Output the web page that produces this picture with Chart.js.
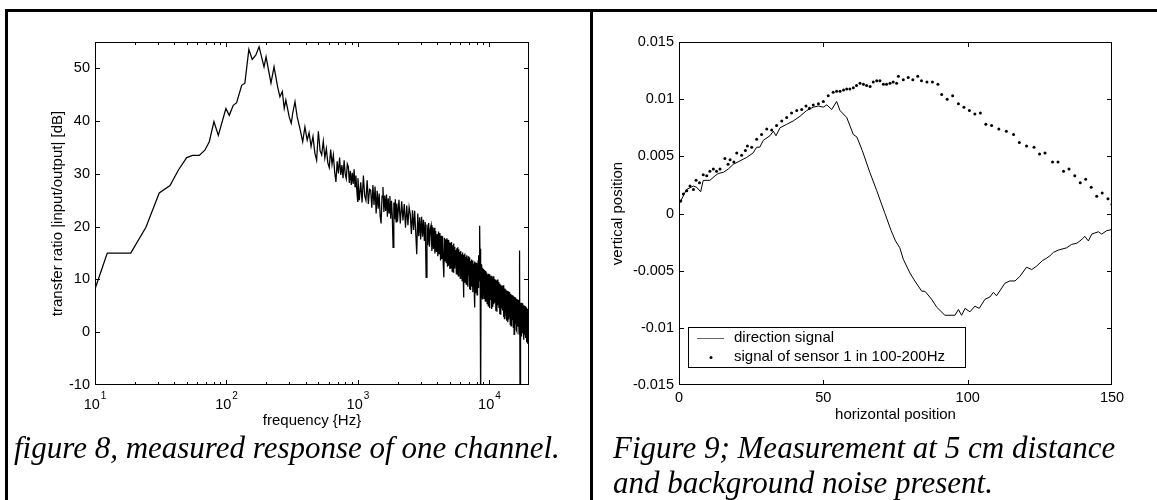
<!DOCTYPE html>
<html>
<head>
<meta charset="utf-8">
<title>figure 8 / figure 9</title>
<script src="https://cdn.jsdelivr.net/npm/chart.js@4.4.1/dist/chart.umd.min.js"></script>
<style>
  body { margin: 0; background: #fff; }
  #halaman { position: relative; width: 1157px; height: 500px; overflow: hidden; background: #fff; }
  .garis { position: absolute; background: #000; }
  canvas { position: absolute; top: 0; }
  .keterangan { position: absolute; font: italic 31px "Liberation Serif", "Times New Roman", serif; line-height: 35px; white-space: nowrap; color: #000; }
</style>
</head>
<body>
<div id="halaman">
  <div class="garis" style="left:5px; top:9px; width:1152px; height:3px"></div>
  <div class="garis" style="left:5px; top:9px; width:3px; height:491px"></div>
  <div class="garis" style="left:590px; top:9px; width:3px; height:491px"></div>
  <canvas id="grafikRespon" width="589" height="440" style="left:0"></canvas>
  <canvas id="grafikPosisi" width="563" height="440" style="left:594px"></canvas>
  <div class="keterangan" style="left:14px; top:430px">figure 8, measured response of one channel.</div>
  <div class="keterangan" style="left:613px; top:430px">Figure 9; Measurement at 5 cm distance<br>and background noise present.</div>
</div>
<script>
Chart.defaults.font.family = '"Liberation Sans", Arial, sans-serif';
Chart.defaults.font.size = 14.5;
Chart.defaults.color = '#000';

// figure 8 - transfer ratio |input/output| [dB] against frequency [Hz]
const frekRendah = [10, 12.4, 18.7, 24.4, 30.8, 37.2, 43, 49.8, 55.3, 62.1, 68.5, 74, 80.3, 86.7,
  99, 105, 112.6, 119.5, 130.5, 138, 148, 157, 167, 177, 193, 200, 218, 230, 245, 255, 266, 275, 283,
  300, 311, 319, 332, 345, 362, 380, 395, 411];
const dbRendah = [8.2, 15, 15, 19.9, 26.4, 27.8, 30.7, 33.1, 33.5, 33.5, 34.5, 36.1, 39.9, 37.3,
  42.4, 41.1, 43.0, 43.5, 46.8, 47.2, 53.6, 51.7, 52.5, 54.1, 50.3, 52.2, 47.2, 50.3, 46.5, 44.6, 45.6, 42.4, 44.0,
  40.8, 39.6, 41.5, 43.7, 40.8, 38.6, 36.1, 38.9, 36.4];

const frekTengah = [425, 440, 455, 470, 485, 500, 515, 530, 545, 560, 575, 590, 605, 620, 635, 650, 665,
  680, 695, 710, 725, 740, 755, 770, 785, 800, 815, 830, 845, 860, 875, 890, 905, 920, 935, 950, 965, 980, 995];
const dbTengah = [37.8, 35.2, 37.1, 34.0, 32.6, 38.1, 34.4, 33.6, 36.2, 33.0, 34.8, 32.1, 31.2, 34.6, 31.8, 33.6, 30.4,
  28.5, 32.4, 30.1, 33.1, 29.8, 31.7, 29.2, 32.6, 30.0, 29.1, 31.9, 31.4, 28.3, 30.6, 27.9, 30.2, 28.1, 30.9, 27.6, 29.7, 26.9, 24.8];

const frekTinggiA = [1000, 1025, 1050, 1075, 1100, 1125, 1150, 1175, 1200, 1225,
  1250, 1275, 1300, 1325, 1350, 1375, 1400, 1425, 1450, 1475,
  1500, 1525, 1550, 1575, 1600, 1625, 1650, 1675, 1700, 1725,
  1750, 1775, 1800, 1825, 1850, 1875, 1900, 1925, 1950, 1975];
const dbTinggiA = [29.2, 25.0, 28.4, 24.6, 29.7, 25.9, 25.0, 28.8, 24.3, 27.1,
  26.9, 23.6, 27.9, 24.1, 27.6, 22.5, 26.8, 23.4, 26.3, 22.0,
  20.6, 25.8, 27.5, 22.8, 25.9, 23.0, 26.1, 21.9, 25.4, 22.6,
  25.8, 21.5, 24.9, 22.0, 16.1, 24.6, 21.4, 25.2, 20.9, 24.4];

const frekTinggiB = [2000, 2050, 2100, 2150, 2200, 2250, 2300, 2350, 2400, 2450,
  2500, 2550, 2600, 2650, 2700, 2750, 2800, 2850, 2900, 2950,
  3000, 3050, 3100, 3150, 3200, 3250, 3300, 3350, 3400, 3450,
  3500, 3550, 3600, 3650, 3700, 3750, 3800, 3850, 3900, 3950,
  4000, 4050, 4100, 4150, 4200, 4250, 4300, 4350, 4400, 4450,
  4500, 4550, 4600, 4650, 4700, 4750, 4800, 4850, 4900, 4950];
const dbTinggiB = [21.0, 25.1, 20.6, 24.8, 21.2, 24.3, 19.8, 24.0, 20.3, 23.7,
  22.4, 18.6, 23.1, 19.4, 23.0, 18.9, 14.8, 22.5, 18.2, 21.8,
  17.6, 21.9, 18.1, 21.3, 17.3, 20.9, 10.4, 20.4, 16.5, 20.7,
  16.2, 19.6, 20.3, 15.4, 19.9, 15.8, 19.8, 14.9, 19.2, 15.2,
  18.6, 14.4, 19.1, 14.9, 18.8, 13.6, 18.3, 13.9, 18.2, 13.1,
  10.4, 17.9, 13.5, 17.6, 13.2, 17.8, 12.4, 17.5, 12.6, 17.0];

const frekTinggiC = [5000, 5050, 5100, 5150, 5200, 5250, 5300, 5350, 5400, 5450,
  5500, 5550, 5600, 5650, 5700, 5750, 5800, 5850, 5900, 5950,
  6000, 6050, 6100, 6150, 6200, 6250, 6300, 6350, 6400, 6450,
  6500, 6550, 6600, 6650, 6700, 6750, 6800, 6850, 6900, 6950,
  7000, 7050, 7100, 7150, 7200, 7250, 7300, 7350, 7400, 7450,
  7500, 7550, 7600, 7650, 7700, 7750, 7800, 7850, 7900, 7950,
  8000, 8050, 8100, 8150, 8200, 8250, 8300, 8350, 8400, 8450,
  8500, 8550, 8600, 8650, 8700, 8750, 8800, 8850, 8900, 8950,
  9000, 9050, 9100, 9150, 9200, 9250, 9300, 9350, 9400, 9450,
  9500, 9550, 9600, 9650, 9700, 9750, 9800, 9850, 9900, 9950];
const dbTinggiC = [12.0, 16.9, 12.1, 17.1, 11.6, 16.5, 11.4, 16.8, 12.2, 16.2,
  12.8, 15.6, 11.1, 15.9, 11.0, 16.1, 10.7, 15.7, 12.3, 15.2,
  10.2, 15.4, 10.6, 14.8, 9.8, 15.1, 11.7, 6.6, 14.7, 9.5,
  14.9, 10.2, 14.3, 9.1, 14.6, 9.4, 13.9, 8.6, 14.4, 10.8,
  13.8, 8.2, 14.2, 8.1, 13.5, 9.9, 13.8, 8.7, 13.1, 7.6,
  13.6, 8.7, 13.0, 8.3, 13.4, 4.7, 13.2, 7.4, 12.8, 9.3,
  13.1, 7.1, 12.7, 7.9, 13.6, 8.4, 14.6, 9.8, 17.3, 20.2,
  12.4, 15.8, -14, 12.9, 7.6, 12.4, 6.8, 12.2, 6.2, 11.8,
  7.3, 12.0, 6.4, 11.5, 8.3, 11.8, 5.9, 11.6, 7.0, 11.2,
  6.7, 11.3, 5.4, 11.0, 6.1, 10.8, 5.0, 11.1, 6.3, 10.6];

const frekTinggiD = [10000, 10100, 10200, 10300, 10400, 10500, 10600, 10700, 10800, 10900,
  11000, 11100, 11200, 11300, 11400, 11500, 11600, 11700, 11800, 11900,
  12000, 12100, 12200, 12300, 12400, 12500, 12600, 12700, 12800, 12900,
  13000, 13100, 13200, 13300, 13400, 13500, 13600, 13700, 13800, 13900,
  14000, 14100, 14200, 14300, 14400, 14500, 14600, 14700, 14800, 14900,
  15000, 15100, 15200, 15300, 15400, 15500, 15600, 15700, 15800, 15900,
  16000, 16100, 16200, 16300, 16400, 16500, 16600, 16700, 16800, 16900,
  17000, 17100, 17200, 17300, 17400, 17500, 17600, 17700, 17800, 17900,
  18000, 18100, 18200, 18300, 18400, 18500, 18600, 18700, 18800, 18900,
  19000, 19100, 19200, 19300, 19400, 19500, 19600, 19700, 19800, 19900, 20000];
const dbTinggiD = [4.6, 11.0, 6.1, 10.7, 4.4, 10.4, 4.8, 10.6, 5.3, 10.1,
  5.6, 9.9, 4.0, 9.7, 3.9, 10.0, 5.1, 9.5, 4.6, 9.2,
  3.4, 9.0, 3.3, 8.8, 4.5, 8.7, 4.1, 8.9, 2.9, 8.4,
  2.6, 8.3, 3.8, 8.1, 3.5, 7.9, 2.2, 7.8, 1.9, 7.7,
  2.4, 7.6, 2.8, 7.2, 1.5, 7.3, 1.2, 7.1, 2.0, 7.0,
  2.3, 6.9, 0.9, 6.8, -0.4, 6.7, 1.4, 6.6, 1.6, 6.4,
  0.5, 6.3, 0.2, 6.2, 1.1, 6.1, 1.0, 5.9, -0.3, 5.7,
  15.5, -14, 4.9, 0.4, 5.6, -0.8, 5.4, 0.7, 5.2, -0.2,
  5.5, 0.6, 5.1, -1.4, 5.0, -0.5, 4.8, 0.3, 4.9, -1.1,
  4.6, -1.9, 4.7, -0.6, 4.4, -2.2, 4.2, -0.9, 3.9, -1.5, 1.8];

const frekTicks = [10, 100, 1000, 10000];
const pangkatTicks = ['1', '2', '3', '4'];
const dbTicks = [-10, 0, 10, 20, 30, 40, 50];

// figure 9 - vertical against horizontal position
const posisiTicksX = [0, 50, 100, 150];
const posisiTicksY = [-0.015, -0.01, -0.005, 0, 0.005, 0.01, 0.015];
const arahX = [0, 2.6, 5.0, 6.1, 7.5, 8.4, 10.7, 12.5, 13.6, 15.4, 17.1, 18.8, 21.1, 23.4, 25.7, 26.9, 28.0, 29.2, 31.5, 32.7,
  33.6, 35.0, 37.3, 39.6, 41.9, 44.2, 46.5, 48.3, 50.0, 51.2, 52.9, 54.6, 55.8, 58.1, 60.4, 61.6, 63.5, 66.1, 68.5, 71.2,
  73.5, 75.0, 76.5, 77.7, 80.0, 81.7, 84.1, 85.2, 87.5, 89.3, 92.1, 95.6, 96.8, 97.9, 99.1, 100.8, 102.5, 104.0, 106.0, 107.7,
  108.9, 110.0, 112.9, 114.6, 116.4, 118.1, 120.4, 122.2, 123.9, 126.0, 127.4, 128.5, 129.7, 131.4, 134.3, 136.0, 137.8, 138.9, 139.8, 140.6,
  141.8, 143.0, 144.1, 145.3, 146.4, 148.2, 150];
const arahY = [0.0008, 0.0021, 0.0024, 0.0023, 0.0019, 0.0029, 0.0029, 0.0033, 0.0035, 0.0036, 0.0039, 0.0043, 0.0046, 0.0049, 0.0053, 0.0058, 0.0058, 0.0064, 0.0068, 0.0072,
  0.0068, 0.0075, 0.0078, 0.0081, 0.0085, 0.0090, 0.0093, 0.0094, 0.0093, 0.0095, 0.0091, 0.0098, 0.0090, 0.0084, 0.0069, 0.0067, 0.0055, 0.0036, 0.0020, 0.0001,
  -0.0015, -0.0024, -0.0030, -0.0040, -0.0052, -0.0059, -0.0068, -0.0068, -0.0075, -0.0082, -0.0089, -0.0089, -0.0084, -0.0089, -0.0083, -0.0086, -0.0081, -0.0083, -0.0075, -0.0073,
  -0.0069, -0.0072, -0.0061, -0.0059, -0.0059, -0.0055, -0.0047, -0.0049, -0.0046, -0.0041, -0.0039, -0.0037, -0.0034, -0.0032, -0.0030, -0.0027, -0.0026, -0.0024, -0.0022, -0.0020,
  -0.0024, -0.0018, -0.0017, -0.0016, -0.0018, -0.0015, -0.0014];
const sensorX = [0.6, 1.5, 2.7, 3.8, 5.0, 5.9, 7.1, 8.4, 9.6, 10.7, 11.9, 13.0, 14.2, 15.9, 17.0, 17.7, 19.0, 20.0, 21.7, 23.0,
  23.7, 25.2, 26.9, 28.6, 30.4, 32.1, 33.8, 35.6, 37.3, 39.0, 40.8, 42.5, 44.0, 45.2, 46.5, 48.3, 50.0, 51.7, 53.4, 54.6,
  55.8, 57.0, 58.1, 59.2, 60.4, 61.5, 62.7, 63.9, 65.0, 66.2, 67.3, 68.5, 69.6, 70.8, 71.9, 73.1, 74.2, 75.4, 76.0, 77.7,
  79.4, 81.0, 82.7, 84.0, 85.9, 87.8, 89.7, 91.0, 92.9, 94.8, 96.8, 98.7, 100.6, 102.5, 104.4, 106.3, 108.3, 110.8, 113.4, 115.9,
  117.9, 120.4, 123.0, 124.9, 126.8, 129.4, 131.3, 133.2, 135.1, 137.1, 139.0, 140.9, 142.8, 144.7, 146.6, 148.6, 150.0];
const sensorY = [0.0011, 0.0017, 0.0020, 0.0024, 0.0021, 0.0029, 0.0027, 0.0034, 0.0033, 0.0037, 0.0039, 0.0037, 0.0039, 0.0048, 0.0043, 0.0047, 0.0045, 0.0053, 0.0051, 0.0055,
  0.0059, 0.0058, 0.0065, 0.0069, 0.0074, 0.0073, 0.0077, 0.0081, 0.0084, 0.0088, 0.0090, 0.0091, 0.0094, 0.0092, 0.0095, 0.0096, 0.0098, 0.0103, 0.0106, 0.0107,
  0.0107, 0.0108, 0.0109, 0.0109, 0.0110, 0.0112, 0.0114, 0.0113, 0.0112, 0.0111, 0.0115, 0.0116, 0.0116, 0.0113, 0.0113, 0.0114, 0.0115, 0.0114, 0.0120, 0.0117,
  0.0119, 0.0117, 0.0120, 0.0116, 0.0115, 0.0115, 0.0113, 0.0104, 0.0100, 0.0103, 0.0096, 0.0093, 0.0090, 0.0087, 0.0088, 0.0078, 0.0077, 0.0074, 0.0072, 0.0069,
  0.0062, 0.0059, 0.0058, 0.0052, 0.0053, 0.0045, 0.0045, 0.0037, 0.0039, 0.0033, 0.0027, 0.0030, 0.0023, 0.0015, 0.0018, 0.0013, 0.0008];

const frekSemua = [...frekRendah, ...frekTengah, ...frekTinggiA, ...frekTinggiB, ...frekTinggiC, ...frekTinggiD];
const dbSemua = [...dbRendah, ...dbTengah, ...dbTinggiA, ...dbTinggiB, ...dbTinggiC, ...dbTinggiD];

// matlab style box: inward ticks on all four sides, titles, optional legend
const bingkaiMatlab = {
  id: 'bingkaiMatlab',
  afterDatasetsDraw(chart, args, opt) {
    if (!opt.judulX) return;
    const { ctx, chartArea: a } = chart;
    const sx = chart.scales.x, sy = chart.scales.y;
    const hurufTick = '14.5px "Liberation Sans", Arial, sans-serif';
    const hurufJudul = '15px "Liberation Sans", Arial, sans-serif';
    const hurufPangkat = '10px "Liberation Sans", Arial, sans-serif';
    ctx.save();
    ctx.strokeStyle = '#000';
    ctx.fillStyle = '#000';
    ctx.lineWidth = 1;

    ctx.beginPath();
    const tickX = (v, len) => {
      const x = Math.round(sx.getPixelForValue(v)) + 0.5;
      ctx.moveTo(x, a.bottom); ctx.lineTo(x, a.bottom - len);
      ctx.moveTo(x, a.top); ctx.lineTo(x, a.top + len);
    };
    const tickY = (v, len) => {
      const y = Math.round(sy.getPixelForValue(v)) + 0.5;
      ctx.moveTo(a.left, y); ctx.lineTo(a.left + len, y);
      ctx.moveTo(a.right, y); ctx.lineTo(a.right - len, y);
    };
    sx.ticks.forEach(t => { if (t.value > sx.min && t.value < sx.max) tickX(t.value, 5); });
    sy.ticks.forEach(t => { if (t.value > sy.min && t.value < sy.max) tickY(t.value, 5); });
    if (sx.type === 'logarithmic') {
      for (let d = 10; d < sx.max; d *= 10) {
        for (let m = 2; m < 10; m++) {
          if (d * m < sx.max) tickX(d * m, 3);
        }
      }
    }
    ctx.stroke();
    ctx.strokeRect(a.left + 0.5, a.top + 0.5, a.width - 1, a.height - 1);

    // 10^n labels for the log axis
    if (opt.pangkat) {
      ctx.textAlign = 'left';
      ctx.textBaseline = 'alphabetic';
      sx.ticks.forEach((t, i) => {
        const x = sx.getPixelForValue(t.value);
        ctx.font = hurufTick;
        const wBasis = ctx.measureText('10').width;
        ctx.font = hurufPangkat;
        const wPangkat = ctx.measureText(opt.pangkat[i]).width;
        const x0 = x - (wBasis + 1 + wPangkat) / 2;
        ctx.font = hurufTick;
        ctx.fillText('10', x0, a.bottom + 24);
        ctx.font = hurufPangkat;
        ctx.fillText(opt.pangkat[i], x0 + wBasis + 1, a.bottom + 14);
      });
    }

    ctx.font = hurufJudul;
    ctx.textAlign = 'center';
    ctx.textBaseline = 'middle';
    ctx.fillText(opt.judulX, (a.left + a.right) / 2, a.bottom + opt.jarakX);
    ctx.save();
    ctx.translate(a.left - opt.jarakY, (a.top + a.bottom) / 2);
    ctx.rotate(-Math.PI / 2);
    ctx.fillText(opt.judulY, 0, 0);
    ctx.restore();

    if (opt.legenda) {
      const ds = chart.data.datasets;
      const x0 = a.left + 9, y0 = a.bottom - 58, w = 278, h = 41;
      ctx.fillStyle = '#fff';
      ctx.fillRect(x0, y0, w, h);
      ctx.strokeStyle = '#000';
      ctx.strokeRect(x0 + 0.5, y0 + 0.5, w - 1, h - 1);
      ctx.strokeStyle = '#666';
      ctx.beginPath();
      ctx.moveTo(x0 + 9, y0 + 11.5);
      ctx.lineTo(x0 + 36, y0 + 11.5);
      ctx.stroke();
      ctx.fillStyle = '#000';
      ctx.beginPath();
      ctx.arc(x0 + 23, y0 + 30.5, 1.5, 0, 2 * Math.PI);
      ctx.fill();
      ctx.textAlign = 'left';
      ctx.fillText(ds[0].label, x0 + 46, y0 + 11);
      ctx.fillText(ds[1].label, x0 + 46, y0 + 30);
    }
    ctx.restore();
  }
};
Chart.register(bingkaiMatlab);

const grafikRespon = new Chart(document.getElementById('grafikRespon'), {
  type: 'line',
  data: {
    datasets: [{
      label: 'transfer ratio',
      data: frekSemua.map((f, i) => ({ x: f, y: dbSemua[i] })),
      borderColor: '#000',
      borderWidth: 1.25,
      pointRadius: 0,
      tension: 0,
    }]
  },
  options: {
    responsive: false,
    animation: false,
    events: [],
    layout: { padding: { left: 0, top: 42, right: 60, bottom: 0 } },
    plugins: {
      legend: { display: false },
      tooltip: { enabled: false },
      bingkaiMatlab: {
        judulX: 'frequency {Hz}',
        judulY: 'transfer ratio |input/output| [dB]',
        jarakX: 36,
        jarakY: 37,
        pangkat: pangkatTicks,
      },
    },
    scales: {
      x: {
        type: 'logarithmic',
        min: 10,
        max: 20000,
        grid: { display: false, drawTicks: false },
        border: { display: false },
        ticks: { display: false },
        afterBuildTicks: s => { s.ticks = frekTicks.map(v => ({ value: v })); },
        afterFit: s => { s.height = 55; },
      },
      y: {
        min: -10,
        max: 55,
        grid: { display: false, drawTicks: false },
        border: { display: false },
        ticks: { padding: 5, callback: v => String(v) },
        afterBuildTicks: s => { s.ticks = dbTicks.map(v => ({ value: v })); },
        afterFit: s => { s.width = 95; },
      },
    },
  }
});

const grafikPosisi = new Chart(document.getElementById('grafikPosisi'), {
  type: 'line',
  data: {
    datasets: [{
      label: 'direction signal',
      data: arahX.map((x, i) => ({ x: x, y: arahY[i] })),
      borderColor: '#000',
      borderWidth: 1,
      pointRadius: 0,
      tension: 0,
    }, {
      label: 'signal of sensor 1 in 100-200Hz',
      data: sensorX.map((x, i) => ({ x: x, y: sensorY[i] })),
      showLine: false,
      pointRadius: 1.5,
      pointBorderWidth: 0,
      pointBackgroundColor: '#000',
      borderColor: '#000',
    }]
  },
  options: {
    responsive: false,
    animation: false,
    events: [],
    layout: { padding: { left: 0, top: 42, right: 45, bottom: 0 } },
    plugins: {
      legend: { display: false },
      tooltip: { enabled: false },
      bingkaiMatlab: {
        judulX: 'horizontal position',
        judulY: 'vertical position',
        jarakX: 30,
        jarakY: 61,
        legenda: true,
      },
    },
    scales: {
      x: {
        type: 'linear',
        min: 0,
        max: 150,
        grid: { display: false, drawTicks: false },
        border: { display: false },
        ticks: { padding: 4, maxRotation: 0, callback: v => String(v) },
        afterBuildTicks: s => { s.ticks = posisiTicksX.map(v => ({ value: v })); },
        afterFit: s => { s.height = 55; },
      },
      y: {
        min: -0.015,
        max: 0.015,
        grid: { display: false, drawTicks: false },
        border: { display: false },
        ticks: { padding: 5, callback: v => String(v) },
        afterBuildTicks: s => { s.ticks = posisiTicksY.map(v => ({ value: v })); },
        afterFit: s => { s.width = 85; },
      },
    },
  }
});
</script>
</body>
</html>
